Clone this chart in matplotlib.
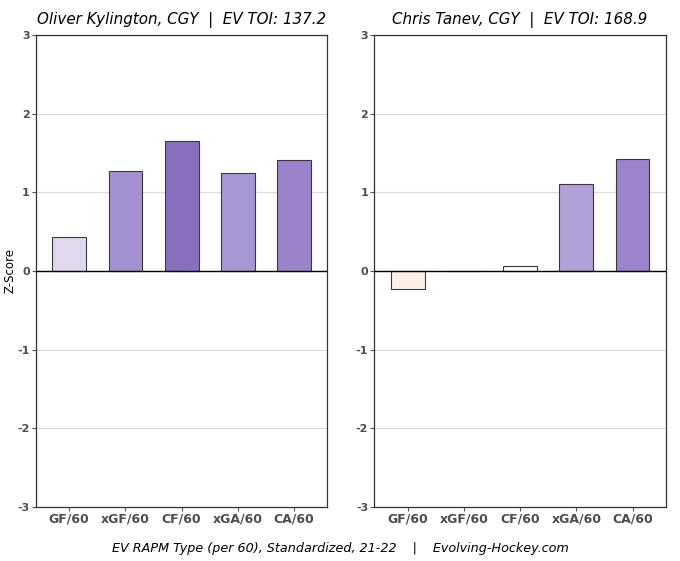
import matplotlib.pyplot as plt

metrics = ['GF/60', 'xGF/60', 'CF/60', 'xGA/60', 'CA/60']

# player 1
p1_title = 'Oliver Kylington, CGY  |  EV TOI: 137.2'
p1_vals = [0.43, 1.27, 1.65, 1.245, 1.41]
p1_colors = ['#e1d8ee', '#a591d2', '#8a6fbe', '#a897d3', '#9a83c9']

# player 2
p2_title = 'Chris Tanev, CGY  |  EV TOI: 168.9'
p2_vals = [-0.23, -0.005, 0.06, 1.10, 1.43]
p2_colors = ['#fdeee8', '#ffffff', '#fdfcfd', '#b3a0d8', '#9c84ca']

yticks = [-3, -2, -1, 0, 1, 2, 3]

fig, axes = plt.subplots(1, 2, figsize=(6.8, 5.61), dpi=100)
plt.subplots_adjust(left=0.053, right=0.979, top=0.9376, bottom=0.0963, wspace=0.162)

for ax, title, vals, cols in zip(axes, [p1_title, p2_title], [p1_vals, p2_vals], [p1_colors, p2_colors]):
    x = range(len(metrics))
    ax.bar(x, vals, width=0.6, color=cols, edgecolor='#3a3a3a', linewidth=0.8, zorder=3)
    ax.axhline(0, color='black', linewidth=1, zorder=4)
    ax.set_ylim(-3, 3)
    ax.set_xlim(-0.59, 4.59)
    ax.set_yticks(yticks)
    ax.set_yticklabels([str(t) for t in yticks], fontsize=8, fontweight='bold', color='#4d4d4d')
    ax.set_xticks(list(x))
    ax.set_xticklabels(metrics, fontsize=9, fontweight='bold', color='#4d4d4d')
    ax.grid(axis='y', color='#d9d9d9', linewidth=0.8, zorder=0)
    ax.tick_params(length=3, color='#555555', pad=1.5)
    ax.tick_params(axis='x', pad=1)
    for s in ax.spines.values():
        s.set_color('#333333')
        s.set_linewidth(0.9)
    ax.set_title(title, fontsize=10.9, fontstyle='italic', pad=8)

axes[0].set_ylabel('Z-Score', fontsize=8.5, labelpad=1)

fig.text(0.5, 0.023, 'EV RAPM Type (per 60), Standardized, 21-22    |    Evolving-Hockey.com',
         ha='center', va='center', fontsize=9.2, fontstyle='italic')

plt.savefig('out.png', dpi=100)
